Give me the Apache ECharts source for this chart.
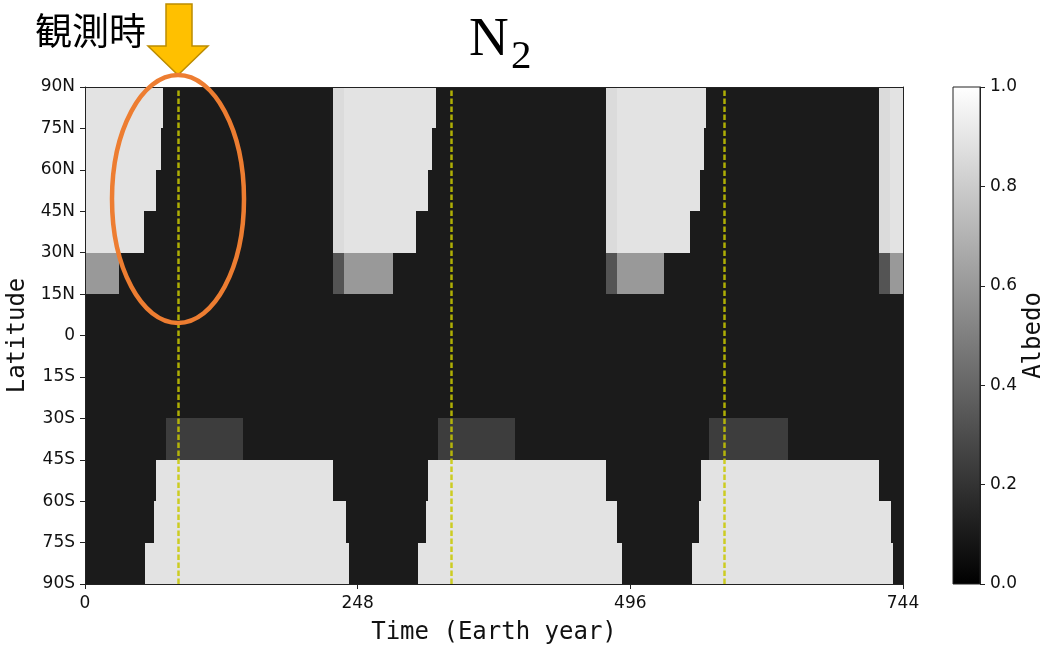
<!DOCTYPE html>
<html>
<head>
<meta charset="utf-8">
<title>N2 albedo</title>
<script src="https://cdn.jsdelivr.net/npm/echarts@6/dist/echarts.min.js"></script>
<style>
  html, body { margin: 0; padding: 0; background: #ffffff; }
  #chart { width: 1041px; height: 646px; }
</style>
</head>
<body>
<div id="chart"></div>
<script>
// Surface albedo of N2 ice by latitude band and time (Earth years).
// Each band lists [startYear, endYear, albedo]; any time not listed is bare ground.
const bareAlbedo = 0.105;

const band90N75N = [[0, 71, 0.89], [226, 236, 0.86], [236, 319, 0.89], [474, 484, 0.86], [484, 565, 0.89], [722, 732, 0.86], [732, 744, 0.89]];
const band75N60N = [[0, 69, 0.89], [226, 236, 0.86], [236, 316, 0.89], [474, 484, 0.86], [484, 563, 0.89], [722, 732, 0.86], [732, 744, 0.89]];
const band60N45N = [[0, 65, 0.89], [226, 236, 0.86], [236, 312, 0.89], [474, 484, 0.86], [484, 559, 0.89], [722, 732, 0.86], [732, 744, 0.89]];
const band45N30N = [[0, 54, 0.89], [226, 236, 0.86], [236, 301, 0.89], [474, 484, 0.86], [484, 550, 0.89], [722, 732, 0.86], [732, 744, 0.89]];
const band30N15N = [[0, 31, 0.6], [226, 236, 0.33], [236, 280, 0.6], [474, 484, 0.33], [484, 527, 0.6], [722, 732, 0.33], [732, 744, 0.6]];
const band15N0 = [];
const band0N15S = [];
const band15S30S = [];
const band30S45S = [[74, 144, 0.24], [321, 391, 0.24], [568, 639, 0.24]];
const band45S60S = [[65, 226, 0.89], [312, 474, 0.89], [560, 722, 0.89]];
const band60S75S = [[63, 237, 0.89], [310, 484, 0.89], [558, 733, 0.89]];
const band75S90S = [[55, 240, 0.89], [303, 488, 0.89], [552, 735, 0.89]];

// Latitude edges [south, north] of each band, in the same order as above.
const bandEdges = [[75, 90], [60, 75], [45, 60], [30, 45], [15, 30], [0, 15],
                   [-15, 0], [-30, -15], [-45, -30], [-60, -45], [-75, -60], [-90, -75]];
const bands = [band90N75N, band75N60N, band60N45N, band45N30N, band30N15N, band15N0,
               band0N15S, band15S30S, band30S45S, band45S60S, band60S75S, band75S90S];

// Observation epochs (dashed markers).
const observationYears = [85, 333, 581];

// Axis ticks.
const timeRange = [0, 744];
const timeTickStep = 248;
const latTickValues = [-90, -75, -60, -45, -30, -15, 0, 15, 30, 45, 60, 75, 90];
const latTickLabels = ['90S', '75S', '60S', '45S', '30S', '15S', '0', '15N', '30N', '45N', '60N', '75N', '90N'];
const albedoRange = [0, 1];
const albedoTickStep = 0.2;

// Build full-coverage cells: [t0, t1, latSouth, latNorth, albedo]
const cells = [];
bands.forEach(function (segs, i) {
  const s = bandEdges[i][0], n = bandEdges[i][1];
  const sorted = segs.slice().sort(function (a, b) { return a[0] - b[0]; });
  let t = timeRange[0];
  sorted.forEach(function (seg) {
    if (seg[0] > t) cells.push([t, seg[0], s, n, bareAlbedo]);
    cells.push([seg[0], seg[1], s, n, seg[2]]);
    t = Math.max(t, seg[1]);
  });
  if (t < timeRange[1]) cells.push([t, timeRange[1], s, n, bareAlbedo]);
});

// Cells are snapped to whole pixels so neighbouring cells meet without seams.
function renderCell(params, api) {
  const p0 = api.coord([api.value(0), api.value(3)]);
  const p1 = api.coord([api.value(1), api.value(2)]);
  const x0 = Math.round(p0[0]), y0 = Math.round(p0[1]);
  const x1 = Math.round(p1[0]), y1 = Math.round(p1[1]);
  return {
    type: 'rect',
    shape: { x: x0, y: y0, width: x1 - x0, height: y1 - y0 },
    style: { fill: api.visual('color') }
  };
}

function renderColorbar(params, api) {
  const p0 = api.coord([api.value(0), api.value(3)]);
  const p1 = api.coord([api.value(1), api.value(2)]);
  return {
    type: 'rect',
    shape: { x: p0[0], y: p0[1], width: p1[0] - p0[0], height: p1[1] - p0[1] },
    style: {
      fill: new echarts.graphic.LinearGradient(0, 1, 0, 0, [
        { offset: 0, color: '#000000' },
        { offset: 1, color: '#ffffff' }
      ]),
      stroke: '#222222',
      lineWidth: 1
    }
  };
}

const tickFont = { fontFamily: 'DejaVu Sans', fontSize: 17, color: '#111111' };
const nameFont = { fontFamily: 'DejaVu Sans Mono', fontSize: 24, color: '#111111' };
const frameLine = { show: true, onZero: false, lineStyle: { color: '#222222', width: 1 } };
const tickLine = { show: true, length: 5, inside: false, lineStyle: { color: '#222222', width: 1 } };

const chart = echarts.init(document.getElementById('chart'), null, { renderer: 'canvas' });

chart.setOption({
  animation: false,
  backgroundColor: '#ffffff',
  grid: [
    { left: 85, top: 87, width: 818, height: 497, containLabel: false, outerBoundsMode: 'none' },
    { left: 953, top: 87, width: 27, height: 497, containLabel: false, outerBoundsMode: 'none' }
  ],
  xAxis: [
    {
      gridIndex: 0, type: 'value', min: timeRange[0], max: timeRange[1], interval: timeTickStep,
      position: 'bottom', z: 5,
      axisLine: frameLine, axisTick: tickLine,
      axisLabel: Object.assign({ margin: 11 }, tickFont),
      splitLine: { show: false },
      name: 'Time (Earth year)', nameLocation: 'middle', nameGap: 37, nameTextStyle: nameFont
    },
    {
      gridIndex: 0, type: 'value', min: timeRange[0], max: timeRange[1], position: 'top', z: 5,
      axisLine: frameLine, axisTick: { show: false }, axisLabel: { show: false }, splitLine: { show: false }
    },
    {
      gridIndex: 1, type: 'value', min: 0, max: 1, show: false
    }
  ],
  yAxis: [
    {
      gridIndex: 0, type: 'value', min: -90, max: 90, interval: 15, position: 'left', z: 5,
      axisLine: frameLine, axisTick: tickLine,
      axisLabel: Object.assign({
        margin: 10,
        formatter: function (v) { return latTickLabels[latTickValues.indexOf(v)]; }
      }, tickFont),
      splitLine: { show: false },
      name: 'Latitude', nameLocation: 'middle', nameGap: 52, nameRotate: 90, nameTextStyle: nameFont
    },
    {
      gridIndex: 0, type: 'value', min: -90, max: 90, position: 'right', z: 5,
      axisLine: frameLine, axisTick: { show: false }, axisLabel: { show: false }, splitLine: { show: false }
    },
    {
      gridIndex: 1, type: 'value', min: albedoRange[0], max: albedoRange[1], interval: albedoTickStep,
      position: 'right', z: 5,
      axisLine: frameLine, axisTick: tickLine,
      axisLabel: Object.assign({
        margin: 10,
        formatter: function (v) { return v.toFixed(1); }
      }, tickFont),
      splitLine: { show: false },
      name: 'Albedo', nameLocation: 'middle', nameGap: 42, nameRotate: 90, nameTextStyle: nameFont
    }
  ],
  visualMap: {
    type: 'continuous', show: false, seriesIndex: 0, dimension: 4,
    min: albedoRange[0], max: albedoRange[1],
    inRange: { color: ['#000000', '#ffffff'] }
  },
  series: [
    {
      type: 'custom', name: 'albedo', xAxisIndex: 0, yAxisIndex: 0,
      renderItem: renderCell,
      encode: { x: [0, 1], y: [2, 3] },
      data: cells,
      silent: true,
      markLine: {
        silent: true,
        symbol: ['none', 'none'],
        label: { show: false },
        lineStyle: { type: [5.5, 2.5], color: 'rgba(200,200,0,0.85)', width: 2.5 },
        data: observationYears.map(function (y) { return { xAxis: y }; })
      }
    },
    {
      type: 'custom', name: 'colorbar', xAxisIndex: 2, yAxisIndex: 2,
      renderItem: renderColorbar,
      encode: { x: [0, 1], y: [2, 3] },
      data: [[0, 1, albedoRange[0], albedoRange[1]]],
      silent: true
    }
  ],
  graphic: [
    {
      type: 'text', x: 35, y: 31, z: 10,
      style: { text: '観測時', font: '37px "Noto Sans CJK JP"', fill: '#000000', textAlign: 'left', textVerticalAlign: 'middle' }
    },
    {
      type: 'polygon', z: 10,
      shape: { points: [[166, 4], [192, 4], [192, 46], [208, 46], [178, 75], [148, 46], [166, 46]] },
      style: { fill: '#FFC000', stroke: '#BC8C00', lineWidth: 1.5 }
    },
    {
      type: 'ellipse', z: 10,
      shape: { cx: 178, cy: 199, rx: 66, ry: 124 },
      style: { fill: 'none', stroke: '#ED7D31', lineWidth: 4.5 }
    },
    {
      type: 'text', x: 469, y: 41, z: 10,
      style: { text: 'N', font: '55px "Liberation Serif"', fill: '#000000', textAlign: 'left', textVerticalAlign: 'middle' }
    },
    {
      type: 'text', x: 511, y: 57, z: 10,
      style: { text: '2', font: '41px "Liberation Serif"', fill: '#000000', textAlign: 'left', textVerticalAlign: 'middle' }
    }
  ]
});
</script>
</body>
</html>
